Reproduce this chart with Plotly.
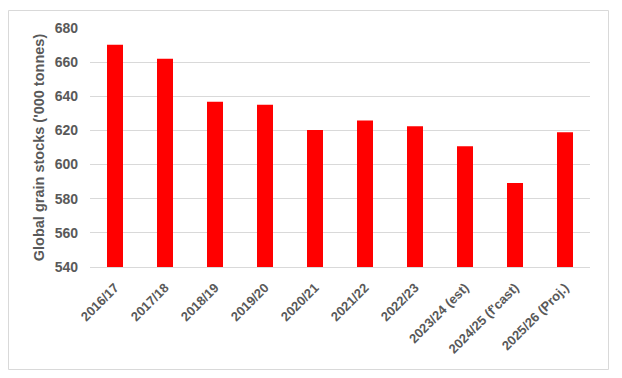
import plotly.graph_objects as go

categories = ["2016/17", "2017/18", "2018/19", "2019/20", "2020/21", "2021/22",
              "2022/23", "2023/24 (est)", "2024/25 (f'cast)", "2025/26 (Proj.)"]
stocks = [670.2, 662.0, 636.8, 635.0, 620.3, 625.8, 622.5, 610.8, 589.2, 619.0]
y_ticks = [540, 560, 580, 600, 620, 640, 660, 680]

W, H = 622, 378
ml, mr, mt, mb = 90, 32, 28, 111
pw, ph = W - ml - mr, H - mt - mb

font_fam = "Liberation Sans, Arial, sans-serif"
gray = "#595959"

fig = go.Figure(go.Bar(x=categories, y=stocks, marker_color="#ff0000",
                       marker_line_width=0, width=0.32))

def px_x(px):
    return (px - ml) / pw

def px_y(py):
    return (H - mb - py) / ph

fig.update_layout(
    width=W, height=H,
    margin=dict(l=ml, r=mr, t=mt, b=mb),
    paper_bgcolor="white", plot_bgcolor="white",
    showlegend=False,
    font=dict(family=font_fam, color=gray),
    xaxis=dict(tickangle=-45, tickfont=dict(size=13, color=gray, family=font_fam),
               showgrid=False, showline=True, linecolor="#d9d9d9", linewidth=1,
               ticks="", ticklabelstandoff=7),
    yaxis=dict(range=[540, 680], tickvals=y_ticks, showgrid=True, gridcolor="#d9d9d9",
               gridwidth=1, zeroline=False, showline=False, ticks="",
               ticklabelstandoff=11,
               tickfont=dict(size=14, color=gray, family=font_fam),
               title=dict(text="<b>Global grain stocks ('000 tonnes)</b>",
                          font=dict(size=14.5, color=gray, family=font_fam), standoff=6)),
    shapes=[dict(type="rect", xref="paper", yref="paper",
                 x0=px_x(8.5), x1=px_x(608.5), y0=px_y(369.5), y1=px_y(10.5),
                 line=dict(color="#d9d9d9", width=1), fillcolor="rgba(0,0,0,0)", layer="below")],
)
fig.update_xaxes(tickfont_weight="bold")
fig.update_yaxes(tickfont_weight="bold")

fig.write_html("out.html")
